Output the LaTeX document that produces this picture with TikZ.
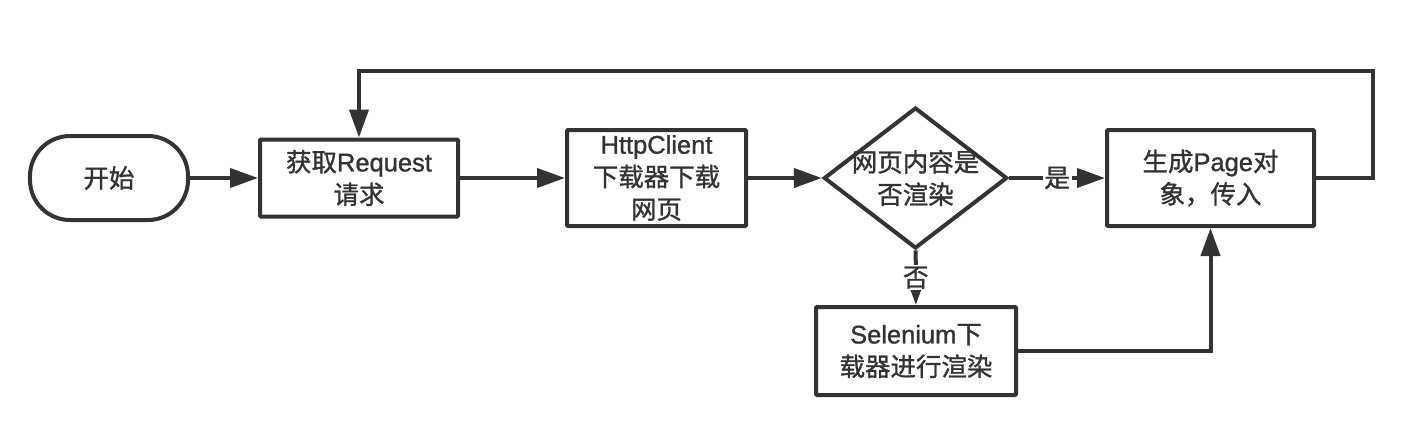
\documentclass[tikz,border=0pt]{standalone}
\usepackage{fontspec}
\setmainfont{Noto Sans CJK SC}[FakeBold=1.2]
\newfontfamily\lat{Liberation Sans}[FakeBold=1.2]
\usetikzlibrary{positioning,shapes.geometric,arrows.meta}
\tikzset{
    basenode/.style={align=center, inner sep=0pt, draw=black!80, line width=0.8mm, font=\fontsize{14.5}{18.5}\selectfont, text=black!80},
    % Start / end
    node_term/.style = {basenode, rectangle, rounded corners=8mm, minimum width=31.6mm, minimum height=16.8mm},
    % Process step
    node_proc/.style = {basenode, rectangle, rounded corners=0.6pt},
    % Decision
    node_dec/.style = {basenode, diamond, aspect=1.43, inner sep=-1mm, minimum width=36.2mm, minimum height=28.2mm},
    flow/.style = {draw=black!80, line width=0.8mm, -{Triangle[length=5.6mm,width=3.8mm]}},
    lbl/.style = {fill=white, inner sep=1pt, text=black!80, font=\fontsize{14.5}{18.5}\selectfont}
}

\begin{document}
\begin{tikzpicture}[x=0.2mm, y=-0.2mm]
    \useasboundingbox (0,0) rectangle (1406,442);

    \node[node_term] (start) at (109,178) {开始};
    \node[node_proc, minimum width=39.6mm, minimum height=15.4mm] (req) at (359,178) {获取{\lat Request}\\请求};
    \node[node_proc, minimum width=35.8mm, minimum height=19.2mm] (http) at (656.5,178) {{\lat HttpClient}\\下载器下载\\网页};
    \node[node_dec] (dec) at (915.5,178) {网页内容是\\否渲染};
    \node[node_proc, minimum width=41.4mm, minimum height=19.2mm] (page) at (1210.5,178) {生成{\lat Page}对\\象，传入};
    \node[node_proc, minimum width=40mm, minimum height=17.6mm] (sel) at (916,351) {{\lat Selenium}下\\载器进行渲染};
    \coordinate (loop_top) at (1373,71);

    \draw[flow] (start) -- (req);
    \draw[flow] (req) -- (http);
    \draw[flow] (http) -- (dec);
    \draw[flow] (dec) -- node[lbl]{是} (page);
    \draw[flow] (dec) -- node[lbl]{否} (sel);
    \draw[flow] (sel.east) -| (page.south);
    \draw[flow] (page.east) -| (loop_top) -| (req.north);
\end{tikzpicture}
\end{document}
